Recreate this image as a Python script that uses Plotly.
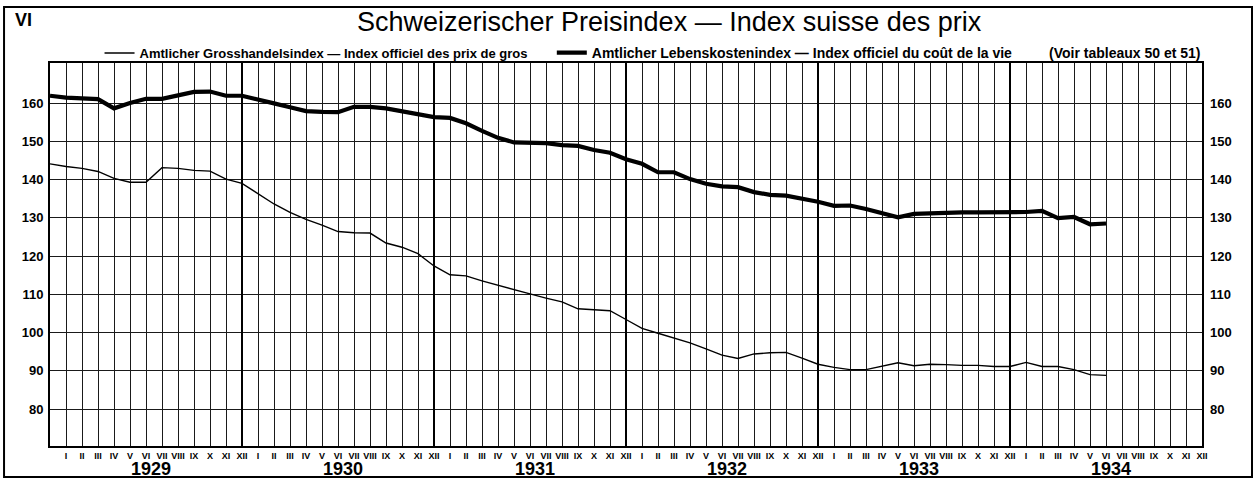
import plotly.graph_objects as go

# ---- data (month index 0 = Dec 1928, 1 = Jan 1929 ... 72 = Dec 1934) ----
roman = ["I", "II", "III", "IV", "V", "VI", "VII", "VIII", "IX", "X", "XI", "XII"]
years = ["1929", "1930", "1931", "1932", "1933", "1934"]
month_labels = roman * len(years)
month_ticks = list(range(1, 12 * len(years) + 1))
year_bounds = list(range(0, 12 * len(years) + 1, 12))

months = list(range(0, 67))

cost_of_living = [161.9, 161.4, 161.2, 161.0, 158.6, 160.0, 161.1, 161.1, 162.0, 162.9,
                  163.0, 161.9, 161.9, 160.8, 159.9, 158.9, 157.9, 157.7, 157.6, 159.0,
                  159.0, 158.6, 157.9, 157.0, 156.3, 156.1, 154.7, 152.7, 150.9, 149.7,
                  149.6, 149.5, 149.0, 148.8, 147.7, 147.0, 145.3, 144.1, 141.9, 141.9,
                  140.1, 138.9, 138.2, 138.0, 136.7, 136.0, 135.8, 135.0, 134.2, 133.1,
                  133.2, 132.3, 131.2, 130.1, 131.0, 131.2, 131.4, 131.4, 131.4, 131.4,
                  131.3, 131.5, 131.8, 129.9, 130.2, 128.3, 128.5]

wholesale = [144.1, 143.4, 142.9, 142.1, 140.3, 139.3, 139.3, 143.1, 142.9, 142.4,
             142.2, 140.1, 139.0, 136.2, 133.6, 131.4, 129.6, 128.1, 126.4, 126.1,
             126.0, 123.4, 122.3, 120.6, 117.4, 115.1, 114.8, 113.5, 112.3, 111.2,
             110.1, 109.0, 108.0, 106.2, 106.0, 105.7, 103.4, 101.1, 99.8, 98.6,
             97.3, 95.7, 94.1, 93.2, 94.4, 94.7, 94.8, 93.3, 91.7, 90.9,
             90.3, 90.3, 91.1, 92.1, 91.3, 91.7, 91.6, 91.4, 91.4, 91.1,
             91.1, 92.2, 91.1, 91.1, 90.3, 89.0, 88.8]

y_ticks = [80, 90, 100, 110, 120, 130, 140, 150, 160]

name_wholesale = "Amtlicher Grosshandelsindex — Index officiel des prix de gros"
name_col = "Amtlicher Lebenskostenindex — Index officiel du coût de la vie"
title_text = "Schweizerischer Preisindex — Index suisse des prix"
note_text = "(Voir tableaux 50 et 51)"
plate_text = "VI"

FONT = "Liberation Sans, Arial, sans-serif"
YR = [70.33, 170.46]
XR = [0, 72]

fig = go.Figure()

fig.add_trace(go.Scatter(x=months, y=wholesale, mode="lines", name=name_wholesale,
                         line=dict(color="black", width=1.4), legend="legend",
                         hoverinfo="skip"))
fig.add_trace(go.Scatter(x=months, y=cost_of_living, mode="lines", name=name_col,
                         line=dict(color="black", width=4.2), legend="legend2",
                         hoverinfo="skip"))
# invisible helpers for overlay axes
fig.add_trace(go.Scatter(x=months, y=wholesale, xaxis="x", yaxis="y2", mode="lines",
                         opacity=0, showlegend=False, hoverinfo="skip"))
fig.add_trace(go.Scatter(x=months, y=wholesale, xaxis="x2", yaxis="y", mode="lines",
                         opacity=0, showlegend=False, hoverinfo="skip"))

fig.update_layout(
    width=1259, height=479,
    margin=dict(l=50, r=57, t=63, b=33, autoexpand=False),
    paper_bgcolor="white", plot_bgcolor="white",
    font=dict(family=FONT, color="black"),
    xaxis=dict(range=XR, tickvals=month_ticks, ticktext=month_labels,
               showgrid=True, gridcolor="#1a1a1a", gridwidth=1,
               zeroline=False, showline=True, linecolor="black", linewidth=2, mirror=True,
               ticks="", tickangle=0,
               tickfont=dict(size=9, family=FONT, weight="bold")),
    xaxis2=dict(range=XR, overlaying="x", anchor="y", tickvals=year_bounds,
                showgrid=True, gridcolor="black", gridwidth=2, showticklabels=False,
                ticks="", zeroline=False, showline=False),
    yaxis=dict(range=YR, tickvals=y_ticks, showgrid=True, gridcolor="#1a1a1a", gridwidth=1,
               zeroline=False, showline=True, linecolor="black", linewidth=2, mirror=True,
               ticks="", ticklabelstandoff=2,
               tickfont=dict(size=13, family=FONT, weight="bold")),
    yaxis2=dict(range=YR, overlaying="y", side="right", anchor="x", tickvals=y_ticks,
                showgrid=False, zeroline=False, showline=False, ticks="",
                ticklabelstandoff=7,
                tickfont=dict(size=13, family=FONT, weight="bold")),
    legend=dict(orientation="h", x=0.043, xanchor="left", y=1.026, yanchor="middle",
                font=dict(size=13, family=FONT, weight="bold"), bgcolor="rgba(0,0,0,0)",
                itemwidth=30),
    legend2=dict(orientation="h", x=0.4356, xanchor="left", y=1.026, yanchor="middle",
                 font=dict(size=14, family=FONT, weight="bold"), bgcolor="rgba(0,0,0,0)",
                 itemwidth=30),
    showlegend=True,
)

annotations = [
    dict(text=title_text, xref="paper", yref="paper", x=0.538, y=1.107,
         xanchor="center", yanchor="middle", showarrow=False,
         font=dict(size=27, family=FONT, color="black")),
    dict(text=plate_text, xref="paper", yref="paper", x=-0.0226, y=1.113,
         xanchor="center", yanchor="middle", showarrow=False,
         font=dict(size=18, family=FONT, color="black", weight="bold")),
    dict(text=note_text, xref="paper", yref="paper", x=1.0, y=1.026,
         xanchor="right", yanchor="middle", showarrow=False,
         font=dict(size=14, family=FONT, color="black", weight="bold")),
]
for k, yr in enumerate(years):
    annotations.append(dict(text=yr, xref="x", yref="paper", x=12 * k + 6.3, y=-0.06,
                            xanchor="center", yanchor="middle", showarrow=False,
                            font=dict(size=18, family=FONT, color="black", weight="bold")))
fig.update_layout(annotations=annotations)

# outer frame of the plate
fig.add_shape(type="rect", xref="paper", yref="paper",
              x0=-0.0399, x1=1.0434, y0=-0.0809, y1=1.146,
              line=dict(color="black", width=2), fillcolor="rgba(0,0,0,0)", layer="below")

fig.write_html("out.html", include_plotlyjs=True, config={"displayModeBar": False},
               post_script="document.body.style.margin='0';document.body.style.overflow='hidden';")
